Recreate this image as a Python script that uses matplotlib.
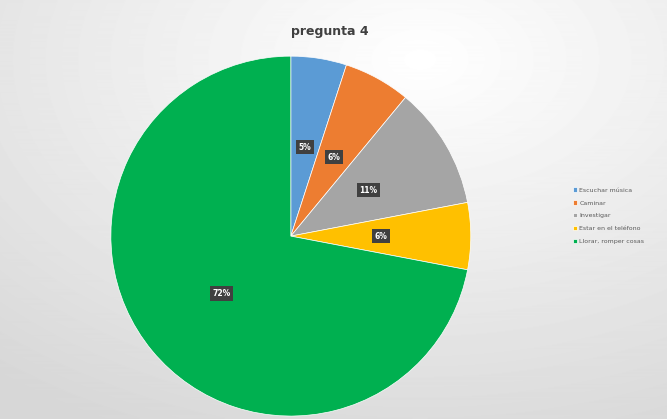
import matplotlib
matplotlib.use("Agg")
import matplotlib.pyplot as plt
import numpy as np

categories = ["Escuchar música", "Caminar", "Investigar", "Estar en el teléfono", "Llorar, romper cosas"]
values = [5, 6, 11, 6, 72]
colors = ["#5B9BD5", "#ED7D31", "#A5A5A5", "#FFC000", "#00B050"]
title = "pregunta 4"

fig = plt.figure(figsize=(6.67, 4.19), dpi=100)

# background gradient
bg = fig.add_axes([0, 0, 1, 1])
yy, xx = np.mgrid[0:419, 0:667]
d = np.sqrt(((xx - 420) / 667) ** 2 + ((yy - 60) / 419) ** 2)
img = 1.0 - 0.16 * np.clip(d / 1.0, 0, 1)
bg.imshow(img, cmap="gray", vmin=0, vmax=1, aspect="auto", extent=[0, 1, 0, 1])
bg.set_axis_off()

ax = fig.add_axes([0.166, 0.007, 0.54, 0.859])
wedges, texts, autotexts = ax.pie(
    values, colors=colors, startangle=90, counterclock=False,
    autopct=lambda p: f"{p:.0f}%", pctdistance=0.5,
    wedgeprops=dict(linewidth=0.5, edgecolor="white"),
    textprops=dict(color="white", fontsize=5.5, fontweight="bold"),
)
for t in autotexts:
    t.set_bbox(dict(boxstyle="square,pad=0.35", facecolor="#404040", edgecolor="none"))
ax.set_xlim(-1, 1)
ax.set_ylim(-1, 1)
ax.set_aspect("equal")

fig.text(0.495, 0.925, title, ha="center", va="center", fontsize=9, fontweight="bold", color="#404040")

leg = fig.legend(wedges, categories, loc="center left", bbox_to_anchor=(0.85, 0.485),
                 frameon=False, fontsize=4.5, handlelength=0.7, handleheight=0.7,
                 labelspacing=1.2, handletextpad=0.4)
for t in leg.get_texts():
    t.set_color("#595959")

fig.savefig("out.png", dpi=100)
